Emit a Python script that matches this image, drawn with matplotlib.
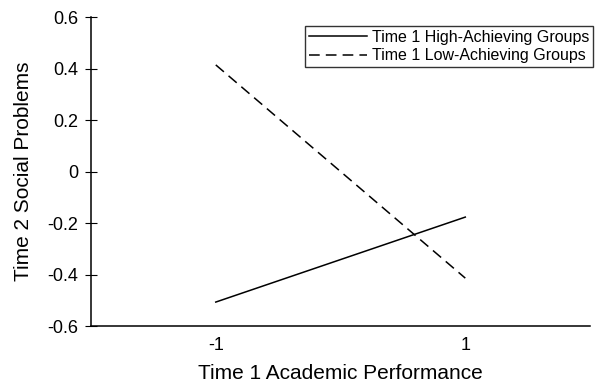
import matplotlib
matplotlib.use("Agg")
import matplotlib.pyplot as plt

plt.rcParams["font.family"] = ["Liberation Sans", "DejaVu Sans"]

x_vals = [-1, 1]
high_vals = [-0.507, -0.177]
low_vals = [0.414, -0.414]
y_ticks = [-0.6, -0.4, -0.2, 0, 0.2, 0.4, 0.6]
y_labels = ["-0.6", "-0.4", "-0.2", "0", "0.2", "0.4", "0.6"]

fig = plt.figure(figsize=(6, 3.84), dpi=100)
ax = fig.add_axes([0.1517, 0.151, 0.8317, 0.8047])

ax.plot(x_vals, high_vals, color="black", linewidth=1.1, label="Time 1 High-Achieving Groups")
ax.plot(x_vals, low_vals, color="black", linewidth=1.1, linestyle=(0, (7, 4)),
        label="Time 1 Low-Achieving Groups")

ax.set_xlim(-2, 2)
ax.set_ylim(-0.6, 0.6)
ax.set_xticks(x_vals)
ax.set_xticklabels(["-1", "1"])
ax.set_yticks(y_ticks)
ax.set_yticklabels(y_labels)
ax.tick_params(axis="x", length=0, labelsize=13, pad=8)
ax.tick_params(axis="y", direction="inout", length=8, labelsize=13, pad=5)

ax.spines["top"].set_visible(False)
ax.spines["right"].set_visible(False)
ax.spines["left"].set_linewidth(1.1)
ax.spines["bottom"].set_linewidth(1.1)

ax.set_xlabel("Time 1 Academic Performance", fontsize=15, labelpad=7)
ax.set_ylabel("Time 2 Social Problems", fontsize=15)
ax.yaxis.set_label_coords(-0.116, 0.5)

leg = ax.legend(loc="upper right", bbox_to_anchor=(593 / 600, 1 - 26 / 384),
                bbox_transform=fig.transFigure, fontsize=11.5,
                frameon=True, fancybox=False, edgecolor="black", handlelength=3.6,
                borderpad=0.25, borderaxespad=0, labelspacing=0.2, handletextpad=0.3)
leg.get_frame().set_linewidth(1.0)

fig.savefig("out.png", dpi=100)
